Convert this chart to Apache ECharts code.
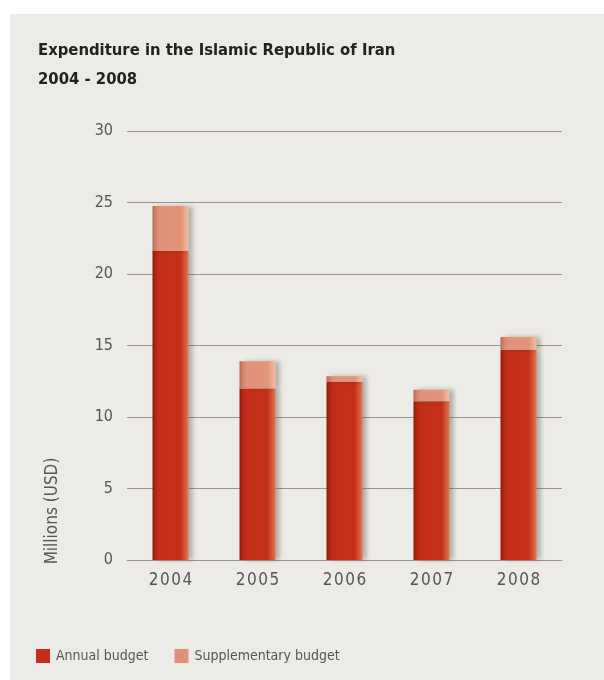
<!DOCTYPE html>
<html>
<head>
<meta charset="utf-8">
<script src="https://cdn.jsdelivr.net/npm/echarts@6/dist/echarts.min.js"></script>
<style>
  html, body { margin: 0; padding: 0; background: #ffffff; }
  #chart { width: 604px; height: 680px; }
</style>
</head>
<body>
<div id="chart"></div>
<script>
const categories = ['2004', '2005', '2006', '2007', '2008'];
const annualBudget = [21.6, 12.0, 12.45, 11.1, 14.7];
const supplementaryBudget = [3.15, 1.9, 0.4, 0.8, 0.9];
const yTicks = { min: 0, max: 30, interval: 5 };

const FONT = '"DejaVu Sans Condensed", "DejaVu Sans", sans-serif';

const chart = echarts.init(document.getElementById('chart'));

function hGrad(stops) {
  return new echarts.graphic.LinearGradient(0, 0, 1, 0,
    stops.map(s => ({ offset: s[0], color: s[1] })));
}

const annualColor = hGrad([[0, '#8e1a0c'], [0.1, '#b52814'], [0.2, '#c42e18'], [0.78, '#c53019'], [0.9, '#d65535'], [1, '#e07a5a']]);
const suppColor = hGrad([[0, '#b56a55'], [0.1, '#d5866c'], [0.2, '#e0917a'], [0.78, '#e29479'], [0.9, '#ebaa90'], [1, '#f2c0a8']]);

const option = {
  animation: false,
  backgroundColor: 'transparent',
  title: {
    text: 'Expenditure in the Islamic Republic of Iran\n2004 - 2008',
    left: 38,
    top: 36,
    padding: 0,
    textStyle: {
      fontFamily: FONT,
      fontWeight: 'bold',
      fontSize: 16.5,
      lineHeight: 29,
      color: '#222222'
    }
  },
  graphic: [
    {
      type: 'rect',
      z: -10,
      silent: true,
      shape: { x: 10, y: 14, width: 594, height: 666 },
      style: { fill: '#edebe8' }
    },
    {
      type: 'text',
      x: 53,
      y: 511,
      rotation: Math.PI / 2,
      style: {
        text: 'Millions (USD)',
        font: '17px ' + FONT,
        fill: '#555555',
        textAlign: 'center',
        textVerticalAlign: 'middle'
      }
    }
  ],
  legend: {
    left: 36,
    top: 649,
    padding: 0,
    itemWidth: 14,
    itemHeight: 14,
    itemGap: 26,
    icon: 'rect',
    textStyle: {
      fontFamily: FONT,
      fontSize: 14,
      color: '#555555',
      padding: [0, 0, 0, 1]
    },
    data: [
      { name: 'Annual budget', itemStyle: { color: '#c42e18' } },
      { name: 'Supplementary budget', itemStyle: { color: '#e0917a' } }
    ]
  },
  grid: {
    left: 127,
    right: 42,
    top: 131,
    bottom: 120,
    containLabel: false
  },
  xAxis: {
    type: 'category',
    data: categories,
    axisTick: { show: false },
    axisLine: { lineStyle: { color: '#9a9692', width: 1 } },
    axisLabel: {
      margin: 12,
      fontFamily: FONT,
      fontSize: 17,
      color: '#555555',
      formatter: v => v.split('').join('\u200A')
    }
  },
  yAxis: {
    type: 'value',
    min: yTicks.min,
    max: yTicks.max,
    interval: yTicks.interval,
    axisLine: { show: false },
    axisTick: { show: false },
    splitLine: { lineStyle: { color: '#9a9692', width: 1 } },
    axisLabel: {
      margin: 14,
      fontFamily: FONT,
      fontSize: 16,
      color: '#555555'
    }
  },
  series: [
    {
      name: 'Annual budget',
      type: 'bar',
      stack: 'budget',
      barWidth: 36,
      data: annualBudget,
      itemStyle: {
        color: annualColor,
        shadowColor: 'rgba(60,50,40,0.35)',
        shadowBlur: 5,
        shadowOffsetX: 4,
        shadowOffsetY: 0
      }
    },
    {
      name: 'Supplementary budget',
      type: 'bar',
      stack: 'budget',
      barWidth: 36,
      data: supplementaryBudget,
      itemStyle: {
        color: suppColor,
        shadowColor: 'rgba(60,50,40,0.35)',
        shadowBlur: 5,
        shadowOffsetX: 4,
        shadowOffsetY: 0
      }
    }
  ]
};

chart.setOption(option);
</script>
</body>
</html>
